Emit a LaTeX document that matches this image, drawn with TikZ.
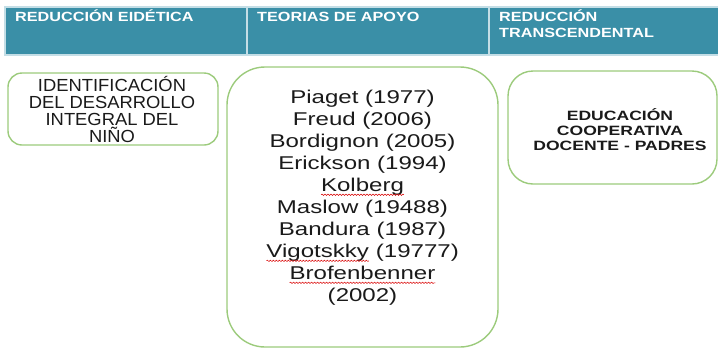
\documentclass[tikz,border=0pt]{standalone}
\usepackage{fontspec}
\usetikzlibrary{decorations.pathmorphing}
\setmainfont{Liberation Sans}
\newfontfamily\fontA[FakeStretch=1.3]{Liberation Sans}
\newfontfamily\fontB[FakeStretch=1.05]{Liberation Sans}
\newfontfamily\fontH[FakeStretch=1.22]{Liberation Sans}
\definecolor{hdr}{HTML}{3A8FA7}
\definecolor{hdrline}{HTML}{C4DEE6}
\definecolor{boxgreen}{HTML}{9CCB7C}
\definecolor{txt}{HTML}{1A1A1A}
\newcommand\squig[1]{\tikz[baseline=(sq.base)]{\node[inner sep=0pt, outer sep=0pt] (sq) {#1};
  \draw[red!85!black, line width=0.5pt, decorate, decoration={snake, amplitude=0.7pt, segment length=3pt}]
  ([yshift=-3pt]sq.base west) -- ([yshift=-3pt]sq.base east);}}
\tikzset{
  hdrcell/.style={fill=hdr, draw=hdrline, line width=1.2pt},
  hdrtext/.style={text=white, inner sep=0pt, anchor=base west, font=\fontH\bfseries\fontsize{13.3}{16}\selectfont},
  greenbox/.style={draw=boxgreen, line width=1.4pt, fill=white},
  bodytext/.style={text=txt, inner sep=0pt, align=center}
}
\begin{document}
\begin{tikzpicture}[x=1pt,y=-1pt]
\useasboundingbox (0,0) rectangle (718,349);
% header
\path[hdrcell] (5,7) rectangle (247,55);
\path[hdrcell] (247,7) rectangle (489,55);
\path[hdrcell] (489,7) rectangle (719,55);
\node[hdrtext] (h1) at (15,21) {REDUCCIÓN EIDÉTICA};
\node[hdrtext] (h2) at (257,21) {TEORIAS DE APOYO};
\node[hdrtext, align=left] (h3) at (499,37) {REDUCCIÓN\\TRANSCENDENTAL};
% boxes
\draw[greenbox, rounded corners=14pt] (8,73) rectangle (218,145);
\draw[greenbox, rounded corners=38pt] (227,67) rectangle (498,347);
\draw[greenbox, rounded corners=25pt] (508,71) rectangle (717,184);
\node[bodytext, font=\fontB\fontsize{17.5}{17}\selectfont] (t1) at (112,109)
  {IDENTIFICACIÓN\\DEL DESARROLLO\\INTEGRAL DEL\\NIÑO};
\node[bodytext, font=\fontA\fontsize{18.5}{22}\selectfont] (t2) at (362.5,198)
  {Piaget (1977)\\Freud (2006)\\Bordignon (2005)\\Erickson (1994)\\\squig{Kolberg}\\Maslow (19488)\\Bandura (1987)\\\squig{Vigotskky} (19777)\\\squig{Brofenbenner}\\(2002)};
\node[bodytext, font=\fontA\bfseries\fontsize{13.5}{15}\selectfont] (t3) at (620,130)
  {EDUCACIÓN\\COOPERATIVA\\DOCENTE - PADRES};
\end{tikzpicture}
\end{document}
